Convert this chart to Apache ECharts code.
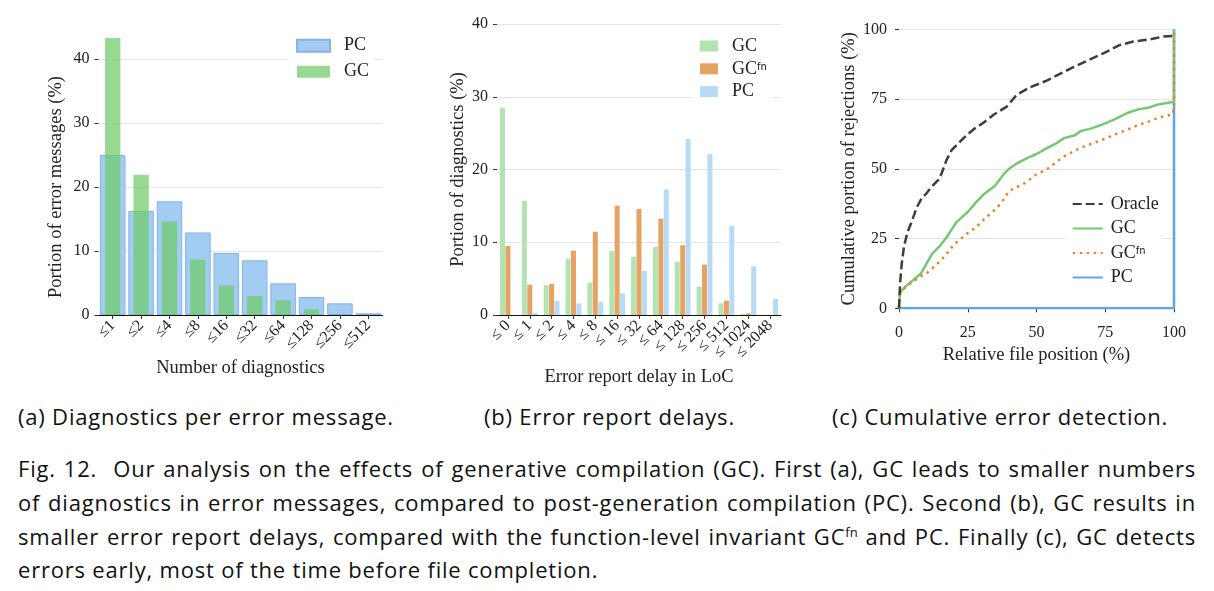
<!DOCTYPE html>
<html>
<head>
<meta charset="utf-8">
<script src="https://cdn.jsdelivr.net/npm/echarts@6/dist/echarts.min.js"></script>
<style>
  body { margin: 0; background: #fff; }
  #main { position: absolute; left: 0; top: 0; width: 1214px; height: 395px; }
  .cap, .line { position: absolute; font-family: "Open Sans", Lato, sans-serif; font-size: 22px; letter-spacing: 0.8px; color: #111; white-space: nowrap; line-height: 26px; }
  .line { left: 18px; width: 1178px; }
  .just { text-align: justify; text-align-last: justify; }
  sup { font-size: 13px; line-height: 0; letter-spacing: 0; }
</style>
</head>
<body>
<div id="main"></div>
<div class="cap" style="left:18px;top:403px;">(a) Diagnostics per error message.</div>
<div class="cap" style="left:484px;top:403px;">(b) Error report delays.</div>
<div class="cap" style="left:832px;top:403px;">(c) Cumulative error detection.</div>
<div class="line just" style="top:455px;">Fig. 12.&nbsp; Our analysis on the effects of generative compilation (GC). First (a), GC leads to smaller numbers</div>
<div class="line just" style="top:489px;">of diagnostics in error messages, compared to post-generation compilation (PC). Second (b), GC results in</div>
<div class="line just" style="top:523px;">smaller error report delays, compared with the function-level invariant GC<sup>fn</sup> and PC. Finally (c), GC detects</div>
<div class="line" style="top:556px;">errors early, most of the time before file completion.</div>
<script>
// (a) diagnostics per error message
var aCats = ['≤1', '≤2', '≤4', '≤8', '≤16', '≤32', '≤64', '≤128', '≤256', '≤512'];
var aPC = [25.0, 16.25, 17.76, 12.9, 9.69, 8.54, 4.95, 2.81, 1.82, 0.26];
var aGC = [43.3, 21.9, 14.6, 8.65, 4.6, 2.97, 2.3, 0.9, 0.1, 0.03];

// (b) error report delays
var bCats = ['≤ 0', '≤ 1', '≤ 2', '≤ 4', '≤ 8', '≤ 16', '≤ 32', '≤ 64', '≤ 128', '≤ 256', '≤ 512', '≤ 1024', '≤ 2048'];
var bGC = [28.5, 15.7, 4.1, 7.74, 4.44, 8.8, 8.0, 9.35, 7.33, 3.9, 1.6, 0.14, 0];
var bGCfn = [9.48, 4.17, 4.26, 8.84, 11.45, 15.03, 14.57, 13.24, 9.58, 6.92, 1.97, 0.23, 0];
var bPC = [0, 0.27, 1.92, 1.6, 1.83, 2.98, 6.09, 17.27, 24.19, 22.08, 12.23, 6.69, 2.2];

// (c) cumulative error detection, [file position %, rejections %]
var cOracle = [[0,0],[0.4,9],[1,16],[1.8,22],[3,27],[4.6,31],[6.4,36],[8.2,39.4],[10,41.2],[11.9,43.6],[14.3,46],[15.5,48.4],[17.3,53.2],[19.2,56.8],[21.6,59.1],[24.6,62.1],[27.6,64.5],[30.7,66.5],[34.3,69.3],[39.2,72.3],[42.8,76.5],[47.6,79.2],[53.7,81.6],[58.5,84],[63.4,86.4],[68.2,88.6],[74.3,91.4],[80.4,94.4],[85.2,95.6],[91.3,96.4],[96.1,97.4],[99.8,97.6]];
var cGC = [[0,0],[0.3,5.5],[2,7.5],[5,10],[8,12.5],[10,16],[12,19.5],[15,22.5],[17,25],[19,28],[21,31],[25,34.5],[28,38],[31,41],[35,44],[38,48],[40,50],[43,52],[47,54],[50,55.3],[54,57.5],[57,59],[60,61],[64,62],[66,63.5],[70,64.5],[75,66.3],[79,68],[83,70],[87,71.3],[91,72],[94,73],[97,73.5],[100,74],[100,100]];
var cGCfn = [[0,0],[0.5,6],[3,8],[5,9.5],[8,11.5],[10,12.5],[14,16],[17,19],[20,23],[22,24.5],[25,27],[28,29],[31,32],[34,34.5],[37,37.5],[40,42],[43,43.5],[46,45],[50,48],[54,50],[58,53],[60,54.4],[62,55.5],[66,57.5],[70,59],[75,60.8],[79,62.5],[83,64],[87,65.7],[91,67],[95,68.5],[99.5,69.5],[100,72],[100,100]];
var cPC = [[0,0],[100,0],[100,100]];

var legendNames = {
  a_PC: 'PC', a_GC: 'GC',
  b_GC: 'GC', b_GCfn: 'GC{s|fn}', b_PC: 'PC',
  c_Oracle: 'Oracle', c_GC: 'GC', c_GCfn: 'GC{s|fn}', c_PC: 'PC'
};

var serif = '"Liberation Serif", "DejaVu Serif", serif';
var ink = '#222';
var gridLine = { show: true, lineStyle: { color: '#e3e3e3', width: 1 } };
var tickLabel = { color: ink, fontFamily: serif, fontSize: 16 };
var nameText = { color: ink, fontFamily: serif, fontSize: 18.5 };
function legendText(gap) {
  return {
    color: ink, fontFamily: serif, fontSize: 18, lineHeight: 16, padding: [0, 0, 0, gap],
    rich: { s: { fontFamily: 'Lato, sans-serif', fontSize: 10.5, verticalAlign: 'top', lineHeight: 16, color: ink } }
  };
}
function fmt(n) { return legendNames[n]; }

function catAxis(grid, cats, nameStr, gap, show) {
  return {
    type: 'category', gridIndex: grid, data: cats, show: show,
    name: nameStr, nameLocation: 'middle', nameGap: gap, nameTextStyle: nameText,
    axisLine: { show: true, lineStyle: { color: '#111', width: 1.2 } },
    axisTick: { show: true, alignWithLabel: true, length: 4, lineStyle: { color: '#333' } },
    axisLabel: Object.assign({ rotate: 45, interval: 0, margin: 8 }, tickLabel),
    splitLine: { show: false }
  };
}
function valAxis(grid, max, interval, nameStr, gap) {
  return {
    type: 'value', gridIndex: grid, min: 0, max: max, interval: interval,
    name: nameStr, nameLocation: 'middle', nameGap: gap, nameTextStyle: nameText,
    axisLine: { show: false },
    axisTick: { show: true, length: 4, lineStyle: { color: '#333' } },
    axisLabel: Object.assign({ margin: 9 }, tickLabel),
    splitLine: gridLine
  };
}

var option = {
  animation: false,
  grid: [
    { left: 98.5, top: 59, width: 284, height: 256 },
    { left: 497, top: 24, width: 284, height: 291 },
    { left: 899, top: 29.3, width: 275, height: 279 }
  ],
  xAxis: [
    catAxis(0, aCats, 'Number of diagnostics', 37, true),
    catAxis(0, aCats, '', 0, false),
    catAxis(1, bCats, 'Error report delay in LoC', 39, true),
    {
      type: 'value', gridIndex: 2, min: 0, max: 100, interval: 25, offset: 7,
      name: 'Relative file position (%)', nameLocation: 'middle', nameGap: 28, nameTextStyle: nameText,
      axisLine: { show: true, lineStyle: { color: '#111', width: 1.2 } },
      axisTick: { show: true, length: 4, lineStyle: { color: '#333' } },
      axisLabel: Object.assign({ margin: 9 }, tickLabel),
      splitLine: { show: false }
    }
  ],
  yAxis: [
    valAxis(0, 40, 10, 'Portion of error messages (%)', 33),
    valAxis(1, 40, 10, 'Portion of diagnostics (%)', 29),
    Object.assign(valAxis(2, 100, 25, 'Cumulative portion of rejections (%)', 37), { offset: 3 })
  ],
  legend: [
    {
      data: ['a_PC', 'a_GC'], formatter: fmt, orient: 'vertical',
      left: 288, top: 30.7, padding: [6, 5, 6, 8], backgroundColor: '#fff',
      icon: 'rect', itemWidth: 33, itemHeight: 12, itemGap: 8, textStyle: legendText(9)
    },
    {
      data: ['b_GC', 'b_GCfn', 'b_PC'], formatter: fmt, orient: 'vertical',
      left: 693, top: 31, padding: [6, 6, 6, 7], backgroundColor: '#fff',
      icon: 'rect', itemWidth: 18, itemHeight: 11, itemGap: 4.8, textStyle: legendText(9)
    },
    {
      data: ['c_Oracle', 'c_GC', 'c_GCfn', 'c_PC'], formatter: fmt, orient: 'vertical',
      left: 1065, top: 189, padding: [6, 3, 6, 6.7], backgroundColor: '#fff',
      itemWidth: 30, itemHeight: 14, itemGap: 6.5, textStyle: legendText(3),
      itemStyle: { opacity: 0 }
    }
  ],
  series: [
    { name: 'a_PC', type: 'bar', xAxisIndex: 0, yAxisIndex: 0, data: aPC, barWidth: '90%', clip: false, z: 2,
      itemStyle: { color: '#a3ccf3', borderColor: '#86b3e6', borderWidth: 1 } },
    { name: 'a_GC', type: 'bar', xAxisIndex: 1, yAxisIndex: 0, data: aGC, barWidth: '54%', clip: false, z: 3,
      itemStyle: { color: 'rgba(112,202,104,0.72)' } },

    { name: 'b_GC', type: 'bar', xAxisIndex: 2, yAxisIndex: 1, data: bGC, barWidth: 5, barGap: '8%',
      itemStyle: { color: '#b3e3b0' } },
    { name: 'b_GCfn', type: 'bar', xAxisIndex: 2, yAxisIndex: 1, data: bGCfn, barWidth: 5, barGap: '8%',
      itemStyle: { color: '#e4a363' } },
    { name: 'b_PC', type: 'bar', xAxisIndex: 2, yAxisIndex: 1, data: bPC, barWidth: 5, barGap: '8%',
      itemStyle: { color: '#b7daf7' } },

    { name: 'c_Oracle', type: 'line', xAxisIndex: 3, yAxisIndex: 2, data: cOracle, symbol: 'none', z: 5,
      lineStyle: { color: '#3d3d3d', width: 2.5, type: [9, 4] }, itemStyle: { color: '#3d3d3d' } },
    { name: 'c_GC', type: 'line', xAxisIndex: 3, yAxisIndex: 2, data: cGC, symbol: 'none', z: 3,
      lineStyle: { color: '#74c873', width: 2.5 }, itemStyle: { color: '#74c873' } },
    { name: 'c_GCfn', type: 'line', xAxisIndex: 3, yAxisIndex: 2, data: cGCfn, symbol: 'none', z: 4,
      lineStyle: { color: '#e8822c', width: 2.5, type: [2.5, 4.5] }, itemStyle: { color: '#e8822c' } },
    { name: 'c_PC', type: 'line', xAxisIndex: 3, yAxisIndex: 2, data: cPC, symbol: 'none', z: 2,
      lineStyle: { color: '#5ba6e8', width: 2.5 }, itemStyle: { color: '#5ba6e8' } }
  ]
};

var myChart = echarts.init(document.getElementById('main'));
myChart.setOption(option);
</script>
</body>
</html>
